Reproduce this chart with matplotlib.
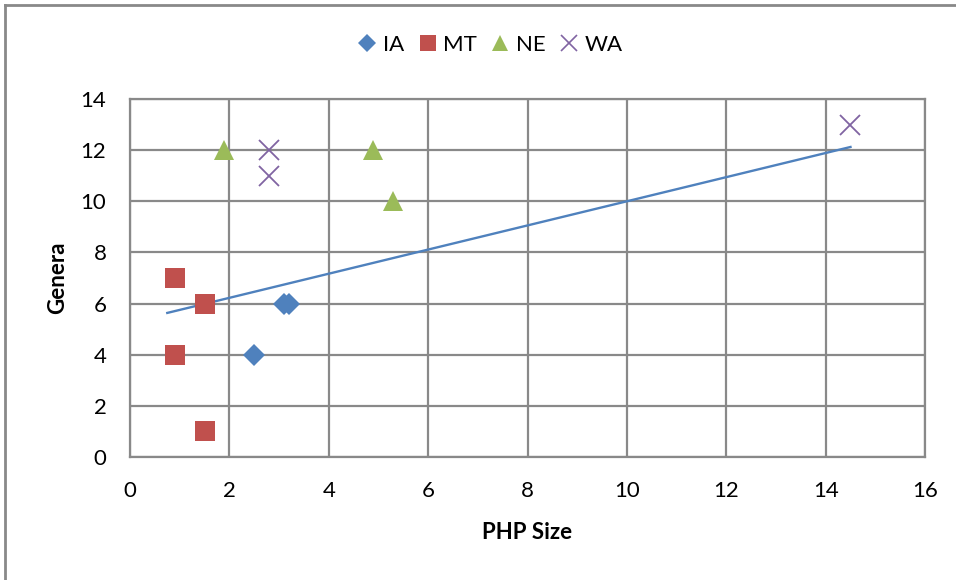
import matplotlib
matplotlib.use("Agg")
import matplotlib.pyplot as plt
from matplotlib.lines import Line2D

plt.rcParams['font.family'] = ['Lato', 'DejaVu Sans']

# PHP size vs. number of genera, by state
ia_x = [2.5, 3.1, 3.2]
ia_y = [4, 6, 6]
mt_x = [0.9, 1.5, 0.9, 1.5]
mt_y = [7, 6, 4, 1]
ne_x = [1.9, 4.9, 5.3]
ne_y = [12, 12, 10]
wa_x = [2.8, 2.8, 14.5]
wa_y = [12, 11, 13]

# linear trend line
trend_x = [0.75, 14.5]
trend_slope = 0.472
trend_intercept = 5.28

x_ticks = [0, 2, 4, 6, 8, 10, 12, 14, 16]
y_ticks = [0, 2, 4, 6, 8, 10, 12, 14]

grid_gray = '#898989'

fig = plt.figure(figsize=(9.56, 5.8), dpi=100)
ax = fig.add_axes([0.136, 0.2121, 0.8316, 0.6172])

series = [
    ('IA', ia_x, ia_y, 'D', '#4F81BD', 11.5),
    ('MT', mt_x, mt_y, 's', '#C0504D', 14.5),
    ('NE', ne_x, ne_y, '^', '#9BBB59', 15),
    ('WA', wa_x, wa_y, 'x', '#8064A2', 14),
]

handles = []
for name, xs, ys, mk, col, ms in series:
    ax.plot(xs, ys, linestyle='none', marker=mk, color=col, markersize=ms,
            markeredgewidth=1.3 if mk == 'x' else 0, zorder=3)
    handles.append(Line2D([], [], linestyle='none', marker=mk, color=col,
                          markersize=ms * 0.8,
                          markeredgewidth=1.2 if mk == 'x' else 0, label=name))

ty = [trend_intercept + trend_slope * x for x in trend_x]
ax.plot(trend_x, ty, color='#4F81BD', linewidth=1.7, zorder=2)

ax.set_xlim(0, 16)
ax.set_ylim(0, 14)
ax.set_xticks(x_ticks)
ax.set_yticks(y_ticks)
ax.grid(True, color=grid_gray, linewidth=1.6)
ax.set_axisbelow(True)
for sp in ax.spines.values():
    sp.set_color(grid_gray)
    sp.set_linewidth(1.6)
ax.tick_params(length=0, labelsize=16, pad=17)

ax.set_xlabel('PHP Size', fontsize=16, fontweight='bold', va='center')
ax.xaxis.set_label_coords(0.5, -0.212)
ax.set_ylabel('Genera', fontsize=16, fontweight='bold', va='center')
ax.yaxis.set_label_coords(-0.0906, 0.5)

fig.legend(handles=handles, loc='center', bbox_to_anchor=(490 / 956, 1 - 45 / 580),
           ncol=4, frameon=False, fontsize=16, handlelength=0.9,
           handletextpad=0.25, columnspacing=0.6)

# chart border (top and left edges)
fig.add_artist(Line2D([5 / 956, 5 / 956], [1 - 5 / 580, 0], color=grid_gray,
                      linewidth=2, transform=fig.transFigure))
fig.add_artist(Line2D([5 / 956, 1], [1 - 5 / 580, 1 - 5 / 580], color=grid_gray,
                      linewidth=2, transform=fig.transFigure))

fig.savefig('out.png', dpi=100, facecolor='white')
